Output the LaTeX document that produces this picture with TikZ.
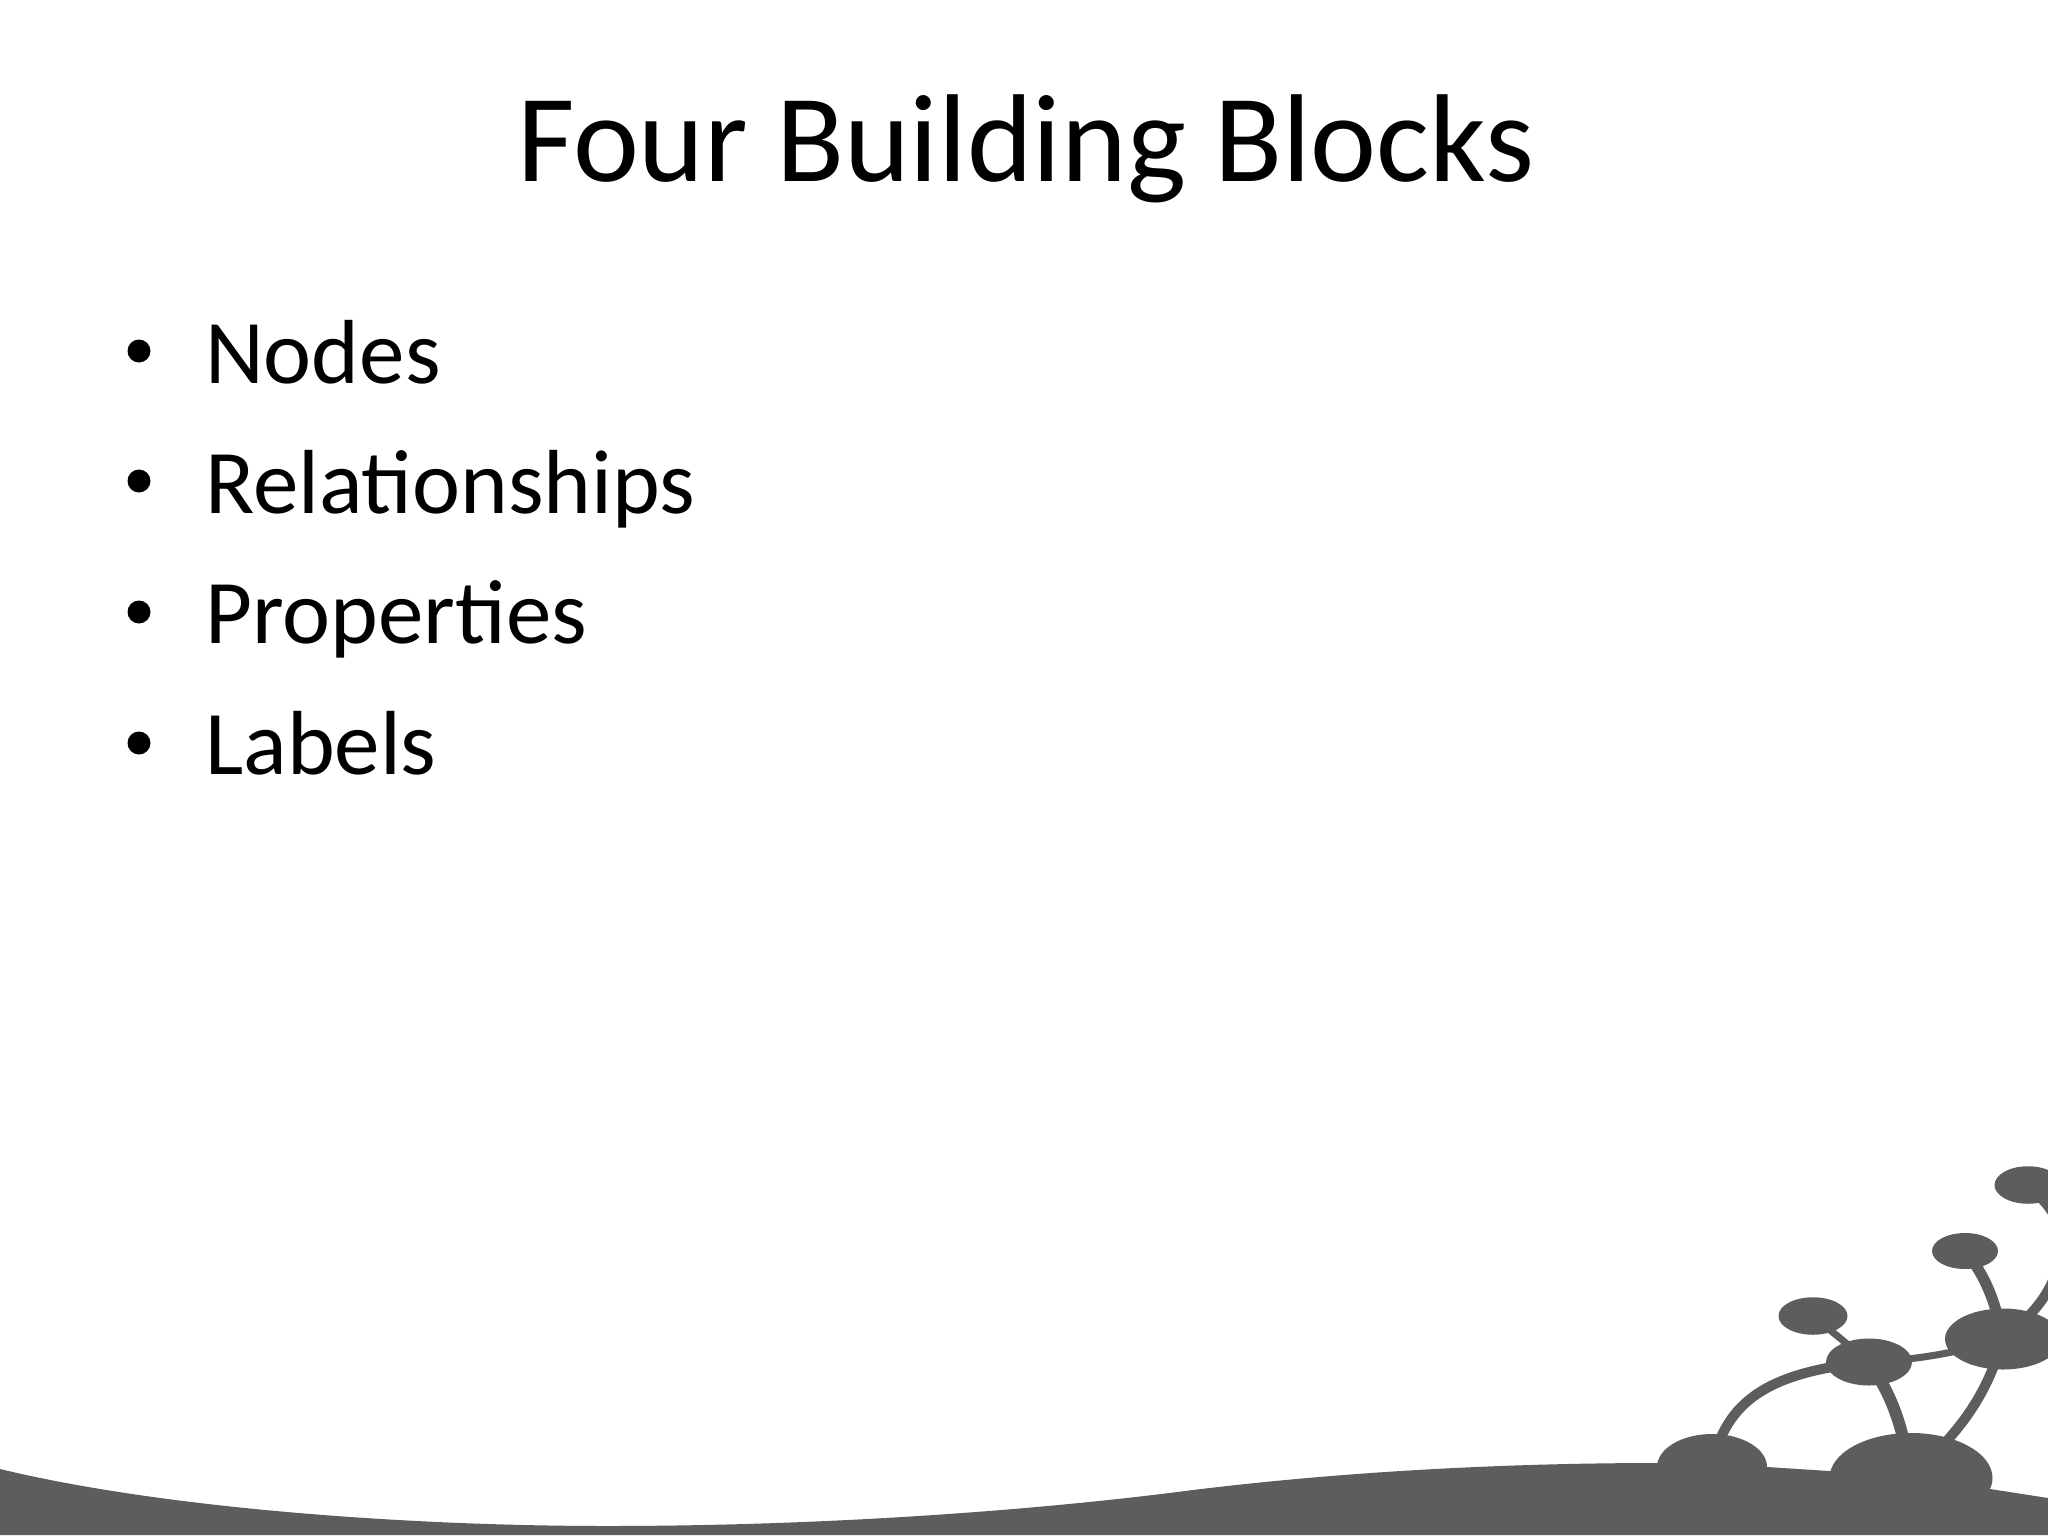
\documentclass[tikz,border=0pt]{standalone}
\usepackage{fontspec}
\setmainfont{Carlito}
\usetikzlibrary{shapes.geometric}
\definecolor{hill}{RGB}{93,93,93}
\tikzset{
  blob/.style={ellipse,fill=hill,inner sep=0pt,outer sep=0pt},
  link/.style={draw=hill,line cap=butt},
  titletext/.style={anchor=base,inner sep=0pt,font=\fontsize{125}{130}\selectfont},
  itemtext/.style={anchor=base west,inner sep=0pt,font=\fontsize{91}{100}\selectfont},
  dot/.style={circle,fill=black,minimum size=23pt,inner sep=0pt}
}
\begin{document}
\begin{tikzpicture}[x=1pt,y=-1pt]
\useasboundingbox (0,0) rectangle (2048,1536);
\fill[white] (0,0) rectangle (2048,1536);
\node[titletext] (title) at (1026,181) {Four Building Blocks};
\node[dot] (b1) at (139,351) {};
\node[dot] (b2) at (139,481) {};
\node[dot] (b3) at (139,612) {};
\node[dot] (b4) at (139,743) {};
\node[itemtext] (t1) at (205,383) {Nodes};
\node[itemtext] (t2) at (205,513) {Relationships};
\node[itemtext] (t3) at (205,643) {Properties};
\node[itemtext] (t4) at (205,774) {Labels};
% ground
\fill[hill] (0,1469) .. controls (170,1510) and (420,1526) .. (607,1526)
  .. controls (830,1526) and (1040,1510) .. (1193,1490)
  .. controls (1340,1472) and (1500,1463) .. (1660,1463)
  -- (1767,1467) -- (1829,1471) -- (1990,1489) -- (2048,1498)
  -- (2048,1535) -- (0,1535) -- cycle;
% nodes
\node[blob,minimum width=67pt,minimum height=37.5pt] (n1) at (2028,1185) {};
\node[blob,minimum width=66pt,minimum height=36pt] (n2) at (1965,1251) {};
\node[blob,minimum width=69pt,minimum height=37.5pt] (n3) at (1813,1316) {};
\node[blob,minimum width=86pt,minimum height=47pt] (n4) at (1869,1362) {};
\node[blob,minimum width=116pt,minimum height=61pt] (n5) at (2003,1339) {};
\node[blob,minimum width=110pt,minimum height=66pt] (n6) at (1712,1467) {};
\node[blob,minimum width=163pt,minimum height=90pt] (n7) at (1911,1478) {};
% connectors
\draw[link,line width=10pt] (n4.center) .. controls (1770,1372) and (1725,1400) .. (n6.center);
\draw[link,line width=12pt] (n4.center) .. controls (1895,1400) and (1903,1430) .. (n7.center);
\draw[link,line width=10pt] (n5.center) .. controls (1985,1400) and (1960,1430) .. (n7.center);
\draw[link,line width=7pt] (n4.center) .. controls (1910,1360) and (1950,1355) .. (n5.center);
\draw[link,line width=7pt] (n3.center) -- (n4.center);
\draw[link,line width=11pt] (n2.center) .. controls (1985,1275) and (1995,1300) .. (n5.center);
\coordinate (offr) at (2060,1240);
\draw[link,line width=10pt] (n1.center) .. controls (2055,1210) and (2062,1225) .. (offr) .. controls (2062,1280) and (2040,1310) .. (n5.center);
\end{tikzpicture}
\end{document}
